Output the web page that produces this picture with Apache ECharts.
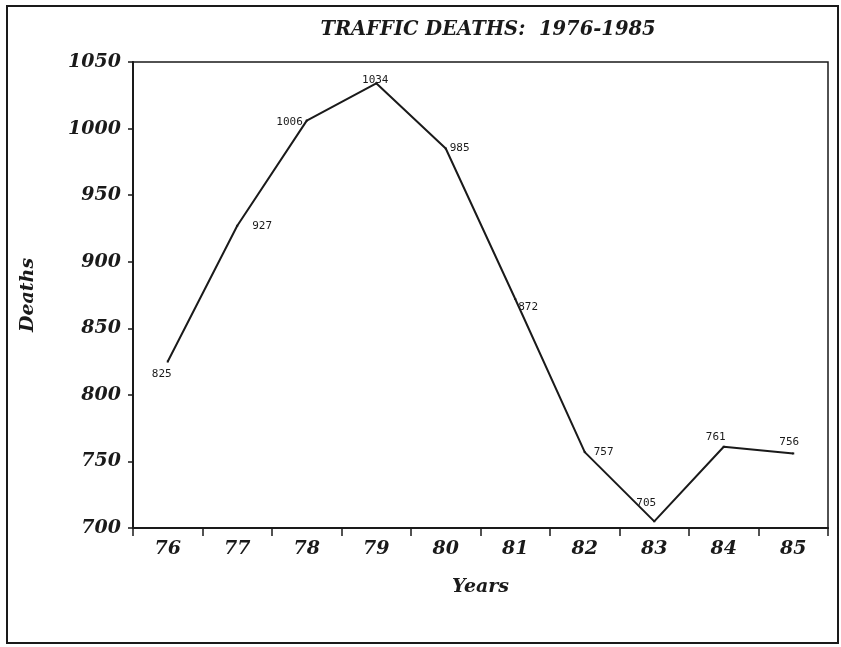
<!DOCTYPE html>
<html>
<head>
<meta charset="utf-8">
<script src="https://cdn.jsdelivr.net/npm/echarts@6/dist/echarts.min.js"></script>
<style>
html,body{margin:0;padding:0;background:#fff;}
#c{width:841px;height:647px;}
</style>
</head>
<body>
<div id="c"></div>
<script>
const years = ['76','77','78','79','80','81','82','83','84','85'];
const deaths = [825, 927, 1006, 1034, 985, 872, 757, 705, 761, 756];
const yTicks = [700, 750, 800, 850, 900, 950, 1000, 1050];

// label placement per point (style only)
const labelPlace = [
  {position:'bottom', distance:6, offset:[-6,0]},
  {position:'right', distance:14, offset:[0,0]},
  {position:'left', distance:3, offset:[0,2]},
  {position:'top', distance:-3, offset:[-1,0]},
  {position:'right', distance:3, offset:[0,0]},
  {position:'right', distance:2, offset:[0,8]},
  {position:'right', distance:8, offset:[0,0]},
  {position:'top', distance:12, offset:[-8,0]},
  {position:'top', distance:3, offset:[-8,0]},
  {position:'top', distance:5, offset:[-4,0]}
];

const serif = '"DejaVu Serif", "Liberation Serif", serif';
const ink = '#1a1a1a';

const chart = echarts.init(document.getElementById('c'), null, {renderer:'canvas'});
chart.setOption({
  backgroundColor: '#fff',
  animation: false,
  title: {
    text: 'TRAFFIC DEATHS:  1976-1985',
    left: 483, top: 15, textAlign: 'center',
    textStyle: {fontFamily: serif, fontStyle:'italic', fontWeight:'bold', fontSize:19.5, color: ink}
  },
  graphic: [{
    type:'rect', shape:{x:7, y:6, width:831, height:637},
    style:{fill:'none', stroke: ink, lineWidth:2}, z:-1
  }],
  grid: {left:133, right:13, top:62, bottom:119, show:true, borderColor: ink, borderWidth:1.5, backgroundColor:'transparent'},
  xAxis: {
    type:'category', data: years, boundaryGap:true,
    name:'Years', nameLocation:'middle', nameGap:50,
    nameTextStyle:{fontFamily: serif, fontStyle:'italic', fontWeight:'bold', fontSize:19, color: ink},
    axisLine:{show:true, lineStyle:{color: ink, width:2}},
    axisTick:{show:true, length:8, lineStyle:{color: ink, width:1.5}},
    axisLabel:{margin:12, fontFamily: serif, fontStyle:'italic', fontWeight:'bold', fontSize:19, color: ink},
    splitLine:{show:false}
  },
  yAxis: {
    type:'value', min: yTicks[0], max: yTicks[yTicks.length-1], interval: yTicks[1]-yTicks[0],
    name:'Deaths', nameLocation:'middle', nameGap:95, nameRotate:90,
    nameTextStyle:{fontFamily: serif, fontStyle:'italic', fontWeight:'bold', fontSize:19, color: ink},
    axisLine:{show:true, lineStyle:{color: ink, width:2}},
    axisTick:{show:true, length:5, lineStyle:{color: ink, width:1.5}},
    axisLabel:{margin:12, fontFamily: serif, fontStyle:'italic', fontWeight:'bold', fontSize:19, color: ink,
      formatter: v => String(v)},
    splitLine:{show:false}
  },
  series: [{
    type:'line',
    data: deaths.map((v,i)=>({
      value: v,
      label: Object.assign({show:true}, labelPlace[i])
    })),
    symbol:'rect', symbolSize:2, showSymbol:true,
    itemStyle:{color: ink},
    lineStyle:{color: ink, width:2},
    label:{
      show:true, color: ink,
      fontFamily:'"DejaVu Sans Mono", "Liberation Mono", monospace',
      fontSize:11,
      formatter: p => String(p.value)
    }
  }]
});
</script>
</body>
</html>
